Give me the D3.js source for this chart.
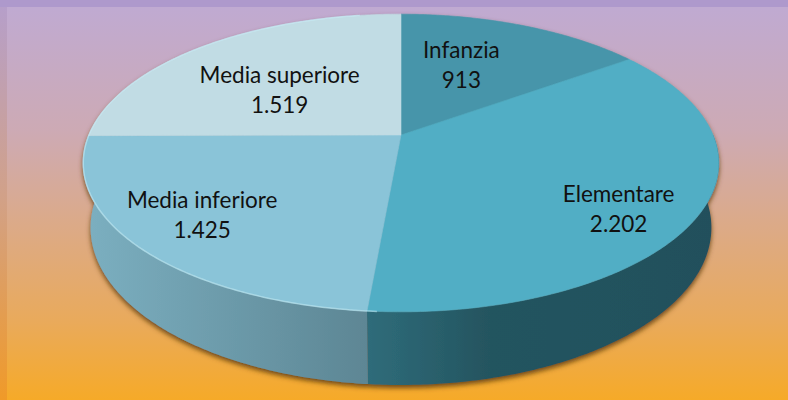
<!DOCTYPE html>
<html>
<head>
<meta charset="utf-8">
<script src="https://cdn.jsdelivr.net/npm/d3@7"></script>
<style>
  html, body { margin: 0; padding: 0; background: #fff; }
  svg { display: block; }
</style>
</head>
<body>
<div id="chart"></div>
<script>
// data
var categories = ["Infanzia", "Elementare", "Media inferiore", "Media superiore"];
var values = [913, 2202, 1425, 1519];
var topColors = ["#4795aa", "#51aec5", "#8ac4d8", "#c1dce4"];

var width = 788;
var height = 400;

// italian number format (1.519)
var it = d3.formatLocale({decimal: ",", thousands: ".", grouping: [3], currency: ["", " €"]});
var fmt = it.format(",d");

// 3d camera used for the tilted pie
var cam = {cx: 401, cy: 135, f: 1473, L: 4.72, sinp: 0.46, cosp: 0.888, H: 0.235};

var proj = function(theta, r, z) {
    var X = r * Math.sin(theta);
    var Y = r * Math.cos(theta);
    var depth = cam.L + Y * cam.cosp - z * cam.sinp;
    var v = Y * cam.sinp + z * cam.cosp;
    return [cam.cx + cam.f * X / depth, cam.cy - cam.f * v / depth];
};

var arcPoints = function(a0, a1, z) {
    var pts = [];
    var n = Math.max(2, Math.ceil((a1 - a0) / 0.01));
    for (var i = 0; i <= n; ++i) {
        pts.push(proj(a0 + (a1 - a0) * i / n, 1, z));
    }
    return pts;
};

var line = d3.line();

var pie = d3.pie().sort(null).startAngle(0).endAngle(2 * Math.PI);
var arcs = pie(values);

var svg = d3.select("#chart")
    .append("svg")
    .attr("width", width)
    .attr("height", height);

var defs = svg.append("defs");

var bg = defs.append("linearGradient")
    .attr("id", "bg")
    .attr("x1", 0).attr("y1", 0).attr("x2", 0).attr("y2", 1);
bg.append("stop").attr("offset", "0").attr("stop-color", "#bfaad3");
bg.append("stop").attr("offset", "0.33").attr("stop-color", "#cdaab4");
bg.append("stop").attr("offset", "0.55").attr("stop-color", "#dbaa8a");
bg.append("stop").attr("offset", "0.8").attr("stop-color", "#e9aa5c");
bg.append("stop").attr("offset", "1").attr("stop-color", "#f6aa28");

var edge = defs.append("linearGradient")
    .attr("id", "edge")
    .attr("x1", 0).attr("y1", 0).attr("x2", 0).attr("y2", 1);
edge.append("stop").attr("offset", "0").attr("stop-color", "#b59fcc");
edge.append("stop").attr("offset", "0.5").attr("stop-color", "#d2a187");
edge.append("stop").attr("offset", "1").attr("stop-color", "#f09a28");

// side gradients (horizontal)
var sideGrad = [
    null,
    [["0", "#2f6c7a"], ["0.35", "#24545f"], ["1", "#22505c"]],
    [["0", "#7cb0c1"], ["1", "#5d8694"]],
    null
];
sideGrad.forEach(function(stops, i) {
    if (!stops) return;
    var g = defs.append("linearGradient")
        .attr("id", "side" + i)
        .attr("gradientUnits", "userSpaceOnUse")
        .attr("y1", 0).attr("y2", 0);
    if (i == 1) { g.attr("x1", 368).attr("x2", 720); }
    else { g.attr("x1", 80).attr("x2", 368); }
    stops.forEach(function(s) {
        g.append("stop").attr("offset", s[0]).attr("stop-color", s[1]);
    });
});

var shadow = defs.append("filter")
    .attr("id", "shadow")
    .attr("x", "-10%").attr("y", "-10%").attr("width", "120%").attr("height", "130%");
shadow.append("feDropShadow")
    .attr("dx", 0).attr("dy", 3)
    .attr("stdDeviation", 2.5)
    .attr("flood-color", "#5a3a08")
    .attr("flood-opacity", 0.85);

// background and frame
svg.append("rect").attr("width", width).attr("height", height).attr("fill", "url(#bg)");
svg.append("rect").attr("x", 0).attr("y", 0).attr("width", 7).attr("height", height).attr("fill", "url(#edge)");
svg.append("rect").attr("x", 0).attr("y", 0).attr("width", width).attr("height", 7).attr("fill", "#ae99cc");

var pieG = svg.append("g").attr("filter", "url(#shadow)");

// sides (only the front half shows)
arcs.forEach(function(d, i) {
    var a0 = Math.max(d.startAngle, Math.PI / 2);
    var a1 = Math.min(d.endAngle, 3 * Math.PI / 2);
    if (a1 <= a0) return;
    var pts = arcPoints(a0, a1, 0).concat(arcPoints(a0, a1, -cam.H).reverse());
    pieG.append("path")
        .attr("d", line(pts) + "Z")
        .attr("fill", sideGrad[i] ? "url(#side" + i + ")" : topColors[i]);
});

// top faces
arcs.forEach(function(d, i) {
    var pts = [proj(0, 0, 0)].concat(arcPoints(d.startAngle, d.endAngle, 0));
    pieG.append("path")
        .attr("d", line(pts) + "Z")
        .attr("fill", topColors[i])
        .attr("stroke", topColors[i])
        .attr("stroke-width", 0.6);
});

// light rim along the top edge
svg.append("path")
    .attr("d", line(arcPoints(Math.PI * 1.02, Math.PI * 1.95, 0)))
    .attr("fill", "none")
    .attr("stroke", "#c8f0fa")
    .attr("stroke-opacity", 0.55)
    .attr("stroke-width", 1.5);

// labels: mid angle projected, then nudged like the original layout
var labelNudge = [[-23, 13], [30, 33], [-36, 19], [11, 24]];
var labels = svg.append("g")
    .attr("font-family", "Lato, 'Open Sans', sans-serif")
    .attr("font-size", 22.5)
    .attr("fill", "#111")
    .attr("text-anchor", "middle");
arcs.forEach(function(d, i) {
    var mid = (d.startAngle + d.endAngle) / 2;
    var p = proj(mid, 0.65, 0);
    var x = p[0] + labelNudge[i][0];
    var y = p[1] + labelNudge[i][1];
    var t = labels.append("text").attr("x", x).attr("y", y);
    t.append("tspan").attr("x", x).attr("y", y - 15).text(categories[i]);
    t.append("tspan").attr("x", x).attr("y", y + 15).text(fmt(values[i]));
});
</script>
</body>
</html>
